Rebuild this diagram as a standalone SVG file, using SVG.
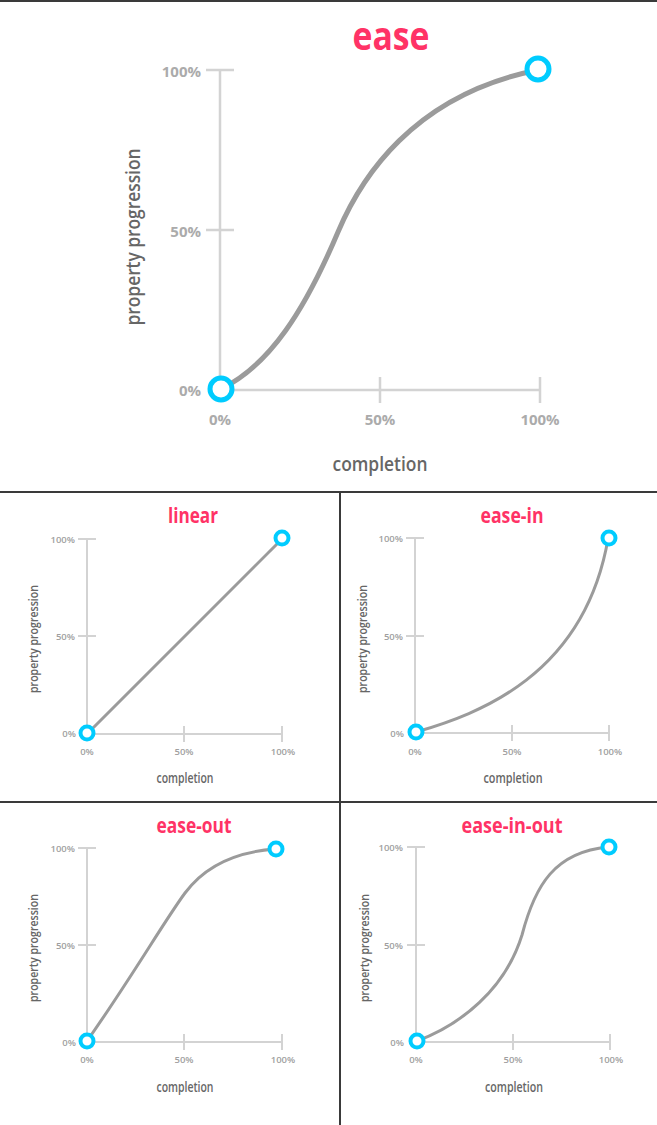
<svg xmlns="http://www.w3.org/2000/svg" width="657" height="1125" viewBox="0 0 657 1125">
<style>
.axis{stroke:#d3d3d3;stroke-width:2.5;fill:none}
.axs{stroke:#d3d3d3;stroke-width:2;fill:none}
.curve{stroke:#9b9b9b;stroke-width:5;fill:none;stroke-linecap:round}
.curs{stroke:#9b9b9b;stroke-width:3;fill:none;stroke-linecap:round}
.pt{fill:#fff;stroke:#00ccff;stroke-width:5}
.pts{fill:#fff;stroke:#00ccff;stroke-width:4}
.div{stroke:#3a3a3a;stroke-width:2;fill:none}
.title{font-family:"Open Sans","Liberation Sans",sans-serif;font-weight:700;fill:#ff3366;text-anchor:middle}
.tk{font-family:"Open Sans","Liberation Sans",sans-serif;font-weight:700;fill:#ababab;font-size:15px}
.tks{font-family:"Open Sans","Liberation Sans",sans-serif;font-weight:600;fill:#9f9f9f;font-size:9.5px}
.lab{font-family:"Open Sans","Liberation Sans",sans-serif;font-weight:600;fill:#666;text-anchor:middle}
.r{text-anchor:end}
.m{text-anchor:middle}
</style>

<g id="dividers">
<line class="div" x1="0" y1="1" x2="657" y2="1"/>
<line class="div" x1="0" y1="492" x2="657" y2="492"/>
<line class="div" x1="340" y1="492" x2="340" y2="1125"/>
<line class="div" x1="0" y1="802" x2="657" y2="802"/>
</g>

<g id="ease">
<text class="title" x="391" y="50" font-size="40" textLength="77" lengthAdjust="spacingAndGlyphs">ease</text>
<line class="axis" x1="220" y1="70" x2="220" y2="390"/>
<line class="axis" x1="220" y1="390" x2="540" y2="390"/>
<line class="axis" x1="206" y1="70" x2="234" y2="70"/>
<line class="axis" x1="206" y1="230" x2="234" y2="230"/>
<line class="axis" x1="380" y1="377" x2="380" y2="403"/>
<line class="axis" x1="540" y1="377" x2="540" y2="403"/>
<text class="tk r" x="201" y="77">100%</text>
<text class="tk r" x="201" y="237">50%</text>
<text class="tk r" x="201" y="396">0%</text>
<text class="tk m" x="220" y="425">0%</text>
<text class="tk m" x="380" y="425">50%</text>
<text class="tk m" x="540" y="425">100%</text>
<text class="lab" x="380" y="471" font-size="20" textLength="95" lengthAdjust="spacingAndGlyphs">completion</text>
<text class="lab" transform="translate(140,237) rotate(-90)" font-size="20" textLength="177" lengthAdjust="spacingAndGlyphs">property progression</text>
<path class="curve" d="M221,389 C270,365 305,310 338,232 C360,180 412,95 538,70"/>
<circle class="pt" cx="221" cy="389" r="11"/>
<circle class="pt" cx="538" cy="69" r="11"/>
</g>

<g id="linear">
<text class="title" x="193" y="523" font-size="21" textLength="50" lengthAdjust="spacingAndGlyphs">linear</text>
<line class="axs" x1="87" y1="539" x2="87" y2="734"/>
<line class="axs" x1="87" y1="734" x2="282" y2="734"/>
<line class="axs" x1="78" y1="539" x2="96" y2="539"/>
<line class="axs" x1="78" y1="636" x2="96" y2="636"/>
<line class="axs" x1="184" y1="726" x2="184" y2="742"/>
<line class="axs" x1="282" y1="726" x2="282" y2="742"/>
<text class="tks r" x="75" y="543">100%</text>
<text class="tks r" x="75" y="640">50%</text>
<text class="tks r" x="76" y="737">0%</text>
<text class="tks m" x="87" y="755">0%</text>
<text class="tks m" x="184" y="755">50%</text>
<text class="tks m" x="283" y="755">100%</text>
<text class="lab" x="185" y="783" font-size="14" textLength="57" lengthAdjust="spacingAndGlyphs">completion</text>
<text class="lab" transform="translate(38,639) rotate(-90)" font-size="13" textLength="108" lengthAdjust="spacingAndGlyphs">property progression</text>
<path class="curs" d="M87,734 L282,539"/>
<circle class="pts" cx="87" cy="733" r="6.5"/>
<circle class="pts" cx="282" cy="538" r="6.5"/>
</g>

<g id="ease-in">
<text class="title" x="512" y="523" font-size="21" textLength="63" lengthAdjust="spacingAndGlyphs">ease-in</text>
<line class="axs" x1="415" y1="538" x2="415" y2="733"/>
<line class="axs" x1="415" y1="733" x2="609" y2="733"/>
<line class="axs" x1="406" y1="538" x2="424" y2="538"/>
<line class="axs" x1="406" y1="636" x2="424" y2="636"/>
<line class="axs" x1="512" y1="725" x2="512" y2="741"/>
<line class="axs" x1="609" y1="725" x2="609" y2="741"/>
<text class="tks r" x="403" y="542">100%</text>
<text class="tks r" x="403" y="640">50%</text>
<text class="tks r" x="404" y="737">0%</text>
<text class="tks m" x="415" y="755">0%</text>
<text class="tks m" x="512" y="755">50%</text>
<text class="tks m" x="610" y="755">100%</text>
<text class="lab" x="513" y="783" font-size="14" textLength="59" lengthAdjust="spacingAndGlyphs">completion</text>
<text class="lab" transform="translate(367,639) rotate(-90)" font-size="13" textLength="108" lengthAdjust="spacingAndGlyphs">property progression</text>
<path class="curs" d="M416,732 C478,714 584,676 608,539"/>
<circle class="pts" cx="416" cy="732" r="6.5"/>
<circle class="pts" cx="609" cy="538" r="6.5"/>
</g>

<g id="ease-out">
<text class="title" x="194" y="833" font-size="21" textLength="75" lengthAdjust="spacingAndGlyphs">ease-out</text>
<line class="axs" x1="87" y1="848" x2="87" y2="1042"/>
<line class="axs" x1="87" y1="1042" x2="282" y2="1042"/>
<line class="axs" x1="78" y1="848" x2="96" y2="848"/>
<line class="axs" x1="78" y1="945" x2="96" y2="945"/>
<line class="axs" x1="184" y1="1034" x2="184" y2="1050"/>
<line class="axs" x1="282" y1="1034" x2="282" y2="1050"/>
<text class="tks r" x="75" y="852">100%</text>
<text class="tks r" x="75" y="949">50%</text>
<text class="tks r" x="76" y="1046">0%</text>
<text class="tks m" x="87" y="1063">0%</text>
<text class="tks m" x="184" y="1063">50%</text>
<text class="tks m" x="283" y="1063">100%</text>
<text class="lab" x="185" y="1092" font-size="14" textLength="57" lengthAdjust="spacingAndGlyphs">completion</text>
<text class="lab" transform="translate(38,948) rotate(-90)" font-size="13" textLength="108" lengthAdjust="spacingAndGlyphs">property progression</text>
<path class="curs" d="M87,1041 C130,980 165,920 185,893 C205,866 235,852 275,849"/>
<circle class="pts" cx="87" cy="1041" r="6.5"/>
<circle class="pts" cx="276" cy="849" r="6.5"/>
</g>

<g id="ease-in-out">
<text class="title" x="512" y="833" font-size="21" textLength="101" lengthAdjust="spacingAndGlyphs">ease-in-out</text>
<line class="axs" x1="416" y1="847" x2="416" y2="1042"/>
<line class="axs" x1="416" y1="1042" x2="610" y2="1042"/>
<line class="axs" x1="407" y1="847" x2="425" y2="847"/>
<line class="axs" x1="407" y1="945" x2="425" y2="945"/>
<line class="axs" x1="513" y1="1034" x2="513" y2="1050"/>
<line class="axs" x1="610" y1="1034" x2="610" y2="1050"/>
<text class="tks r" x="403" y="851">100%</text>
<text class="tks r" x="403" y="949">50%</text>
<text class="tks r" x="404" y="1046">0%</text>
<text class="tks m" x="416" y="1063">0%</text>
<text class="tks m" x="513" y="1063">50%</text>
<text class="tks m" x="611" y="1063">100%</text>
<text class="lab" x="514" y="1092" font-size="14" textLength="58" lengthAdjust="spacingAndGlyphs">completion</text>
<text class="lab" transform="translate(369,948) rotate(-90)" font-size="13" textLength="108" lengthAdjust="spacingAndGlyphs">property progression</text>
<path class="curs" d="M417,1041 C460,1025 505,990 522,935 C535,885 555,852 608,847"/>
<circle class="pts" cx="417" cy="1041" r="6.5"/>
<circle class="pts" cx="609" cy="847" r="6.5"/>
</g>
</svg>
